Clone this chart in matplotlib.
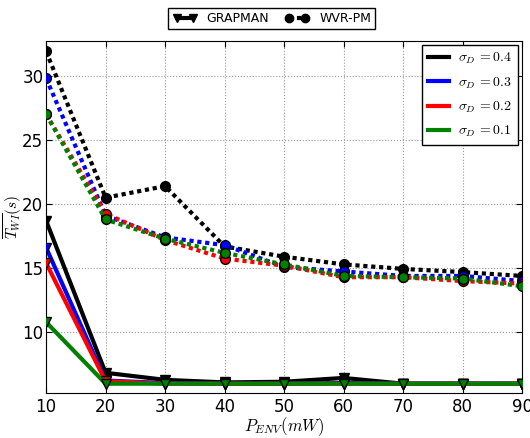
import matplotlib
matplotlib.use("Agg")
import matplotlib.pyplot as plt
from matplotlib.lines import Line2D

plt.rcParams['mathtext.fontset'] = 'cm'
plt.rcParams['font.family'] = ['DejaVu Sans']

x = [10, 20, 30, 40, 50, 60, 70, 80, 90]
sigma_labels = ['0.4', '0.3', '0.2', '0.1']
colors = ['black', 'blue', 'red', 'green']

grapman = {
    '0.4': [18.7, 6.85, 6.3, 6.1, 6.15, 6.45, 6.0, 6.0, 6.0],
    '0.3': [16.6, 6.25, 6.05, 6.0, 6.0, 6.05, 6.0, 6.0, 6.0],
    '0.2': [15.4, 6.2, 6.0, 6.0, 6.0, 6.0, 6.0, 6.0, 6.0],
    '0.1': [10.8, 6.0, 6.0, 6.0, 6.0, 6.0, 6.0, 6.0, 6.0],
}
wvr = {
    '0.4': [31.9, 20.5, 21.4, 16.7, 15.9, 15.3, 14.95, 14.7, 14.4],
    '0.3': [29.8, 19.1, 17.4, 16.8, 15.1, 14.75, 14.4, 14.4, 14.0],
    '0.2': [27.0, 19.25, 17.2, 15.75, 15.2, 14.3, 14.3, 14.0, 13.8],
    '0.1': [27.0, 18.8, 17.3, 16.2, 15.3, 14.4, 14.3, 14.2, 13.6],
}

dot = (0, (1, 0.9))

fig = plt.figure(figsize=(5.3, 4.38), dpi=100)
ax = fig.add_axes([0.087, 0.102, 0.898, 0.804])

for s, c in zip(sigma_labels, colors):
    ax.plot(x, wvr[s], linestyle=dot, color=c, lw=3, marker='o', ms=7,
            markerfacecolor=c, markeredgecolor='black', zorder=3,
            dash_capstyle='butt')
for s, c in zip(sigma_labels, colors):
    ax.plot(x, grapman[s], linestyle='-', color=c, lw=3, marker='v', ms=7,
            markerfacecolor=c, markeredgecolor='black', zorder=3)

ax.set_xlim(10, 90)
ax.set_ylim(5.25, 32.7)
ax.set_xticks(x)
ax.set_yticks([10, 15, 20, 25, 30])
ax.grid(True, linestyle=':', color='#999999', lw=0.8)
ax.tick_params(direction='in', labelsize=12, top=True, right=True, length=4)
ax.tick_params(axis='y', pad=2)
ax.set_xlabel('$P_{ENV}(mW)$', fontsize=12, labelpad=-1)
ax.set_ylabel('$\\overline{T_{WI}}(s)$', fontsize=11, labelpad=-1)

sig_handles = [Line2D([], [], color=c, lw=3) for c in colors]
leg1 = ax.legend(sig_handles, ['$\\sigma_D\\,{=}0.%s$' % s[-1] for s in sigma_labels],
                 loc='upper right', fontsize=10, fancybox=False, framealpha=1,
                 edgecolor='black', borderaxespad=0.3, handlelength=1.5,
                 labelspacing=0.65, handletextpad=0.7)
leg1.get_frame().set_linewidth(1.0)

top_handles = [Line2D([], [], color='black', lw=3, marker='v', ms=6),
               Line2D([], [], color='black', lw=3, linestyle=dot, marker='o', ms=6,
                      dash_capstyle='butt')]
leg2 = fig.legend(top_handles, ['GRAPMAN', 'WVR-PM'], loc='upper center',
                  bbox_to_anchor=(0.513, 0.997), ncol=2, numpoints=2, fontsize=9,
                  fancybox=False, framealpha=1, edgecolor='black', handlelength=1.9,
                  columnspacing=1.3, borderpad=0.35)
leg2.get_frame().set_linewidth(1.0)

fig.savefig('out.png', dpi=100)
